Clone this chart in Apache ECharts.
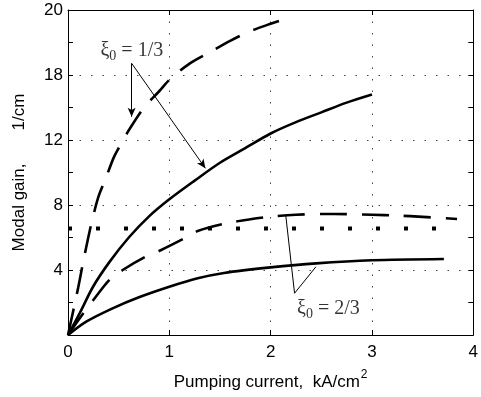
<!DOCTYPE html>
<html>
<head>
<meta charset="utf-8">
<script src="https://cdn.jsdelivr.net/npm/echarts@6/dist/echarts.min.js"></script>
<style>
  html, body { margin: 0; padding: 0; background: #fff; }
  #chart { width: 481px; height: 397px; }
</style>
</head>
<body>
<div id="chart"></div>
<script>
// gain curves, [current kA/cm2, gain 1/cm]
const dashedThird = [[0, 0], [0.1, 2.9], [0.15, 4.5], [0.2, 6.0], [0.24, 7.1], [0.3, 8.5], [0.37, 9.6], [0.45, 10.9], [0.5, 11.5], [0.6, 12.6], [0.75, 14.0], [0.9, 15.0], [1.0, 15.7], [1.2, 16.7], [1.4, 17.4], [1.6, 18.1], [1.8, 18.7], [2.0, 19.15], [2.17, 19.5]]
const solidThird = [[0, 0], [0.12, 1.4], [0.25, 3.0], [0.41, 4.5], [0.6, 6.0], [0.8, 7.3], [1.0, 8.35], [1.25, 9.5], [1.5, 10.6], [1.75, 11.5], [2.0, 12.4], [2.25, 13.1], [2.5, 13.7], [2.75, 14.3], [3.0, 14.8]]
const dashedTwoThirds = [[0, 0], [0.1, 0.9], [0.25, 2.15], [0.41, 3.4], [0.54, 4.0], [0.76, 4.8], [0.91, 5.2], [1.15, 5.95], [1.28, 6.4], [1.56, 6.87], [1.8, 7.12], [2.0, 7.28], [2.25, 7.4], [2.5, 7.45], [2.75, 7.44], [3.0, 7.4], [3.25, 7.35], [3.5, 7.27], [3.84, 7.14]]
const solidTwoThirds = [[0, 0], [0.18, 0.82], [0.44, 1.64], [0.7, 2.32], [1.0, 2.97], [1.28, 3.49], [1.54, 3.82], [2.0, 4.16], [2.45, 4.41], [3.0, 4.6], [3.71, 4.68]]
const dottedLevel = [[0, 6.55], [3.86, 6.55]]

const xTicks = [0, 1, 2, 3, 4]
// the original figure labels the 16 tick as "18"
const yTickLabels = { 0: '', 4: '4', 8: '8', 12: '12', 16: '18', 20: '20' }

// annotation pointers
const topArrows = [
  [[0.628, 16.72], [0.628, 13.43]],
  [[0.628, 16.72], [1.356, 10.26]],
]
const bottomPointers = [
  [[2.236, 2.57], [2.149, 7.38]],
  [[2.236, 2.57], [2.447, 4.2]],
]
const topNoteAt = [0.63, 17.5]
const bottomNoteAt = [2.57, 1.62]

const chart = echarts.init(document.getElementById('chart'), null, { renderer: 'canvas' })

const sansFont = 'Liberation Sans, Arial, sans-serif'
const serifFont = 'Liberation Serif, Times New Roman, serif'
const gridDots = { color: '#444', width: 1, type: [1.5, 10] }

const noteRich = {
  a: { fontFamily: serifFont, fontSize: 20, color: '#000' },
  b: { fontFamily: serifFont, fontSize: 14, color: '#000', padding: [12, 0, 0, 0] },
}

function curve(data, dashed) {
  return {
    type: 'line',
    data: data,
    smooth: 0.3,
    showSymbol: false,
    silent: true,
    lineStyle: { color: '#000', width: 2.6, type: dashed ? [27, 15] : 'solid' },
  }
}

function pointerLines(pairs, arrow) {
  return {
    silent: true,
    symbol: ['none', arrow ? 'arrow' : 'none'],
    symbolSize: [6, 9],
    label: { show: false },
    lineStyle: { color: '#000', width: 1, type: 'solid' },
    data: pairs.map((p) => [{ coord: p[0] }, { coord: p[1] }]),
  }
}

function note(at, text) {
  return {
    type: 'scatter',
    data: [at],
    symbolSize: 0,
    silent: true,
    label: { show: true, position: 'inside', formatter: text, rich: noteRich },
  }
}

const option = {
  backgroundColor: '#fff',
  animation: false,
  grid: { left: 68, right: 2, top: 10, bottom: 62 },
  xAxis: [
    {
      type: 'value',
      min: xTicks[0],
      max: xTicks[xTicks.length - 1],
      interval: 1,
      name: 'Pumping current,  kA/cm{s|2}',
      nameLocation: 'middle',
      nameGap: 34,
      nameTextStyle: {
        fontFamily: sansFont, fontSize: 17, color: '#000',
        rich: { s: { fontFamily: sansFont, fontSize: 12, color: '#000', padding: [0, 0, 14, 1] } },
      },
      axisLine: { show: true, lineStyle: { color: '#000', width: 1 } },
      axisTick: { show: true, inside: true, length: 5, lineStyle: { color: '#000' } },
      axisLabel: { fontFamily: sansFont, fontSize: 17, color: '#000', margin: 9 },
      splitLine: { show: true, lineStyle: gridDots },
    },
    {
      type: 'value',
      position: 'top',
      min: xTicks[0],
      max: xTicks[xTicks.length - 1],
      interval: 1,
      axisLine: { show: true, onZero: false, lineStyle: { color: '#000', width: 1 } },
      axisTick: { show: true, inside: true, length: 5, lineStyle: { color: '#000' } },
      axisLabel: { show: false },
      splitLine: { show: false },
    },
  ],
  yAxis: [
    {
      type: 'value',
      min: 0,
      max: 20,
      interval: 4,
      name: 'Modal gain,       1/cm',
      nameLocation: 'middle',
      nameGap: 40,
      nameTextStyle: { fontFamily: sansFont, fontSize: 17, color: '#000' },
      axisLine: { show: true, lineStyle: { color: '#000', width: 1 } },
      axisTick: { show: true, inside: true, length: 5, lineStyle: { color: '#000' } },
      minorTick: { show: true, splitNumber: 2, length: 5, lineStyle: { color: '#000' } },
      axisLabel: {
        fontFamily: sansFont, fontSize: 17, color: '#000', margin: 5,
        formatter: (v) => yTickLabels[v] !== undefined ? yTickLabels[v] : String(v),
      },
      splitLine: { show: true, lineStyle: gridDots },
    },
    {
      type: 'value',
      position: 'right',
      min: 0,
      max: 20,
      interval: 4,
      axisLine: { show: true, onZero: false, lineStyle: { color: '#000', width: 1 } },
      axisTick: { show: true, inside: true, length: 5, lineStyle: { color: '#000' } },
      minorTick: { show: true, splitNumber: 2, length: 5, lineStyle: { color: '#000' } },
      axisLabel: { show: false },
      splitLine: { show: false },
    },
  ],
  series: [
    curve(dashedThird, true),
    curve(solidThird, false),
    curve(dashedTwoThirds, true),
    curve(solidTwoThirds, false),
    {
      type: 'line',
      data: dottedLevel,
      showSymbol: false,
      silent: true,
      lineStyle: { color: '#000', width: 4, type: [4, 24], cap: 'butt' },
    },
    {
      type: 'line',
      data: [],
      markLine: pointerLines(topArrows, true),
    },
    {
      type: 'line',
      data: [],
      markLine: pointerLines(bottomPointers, false),
    },
    note(topNoteAt, '{a|ξ}{b|0}{a| = 1/3}'),
    note(bottomNoteAt, '{a|ξ}{b|0}{a| = 2/3}'),
  ],
}

chart.setOption(option)
</script>
</body>
</html>
